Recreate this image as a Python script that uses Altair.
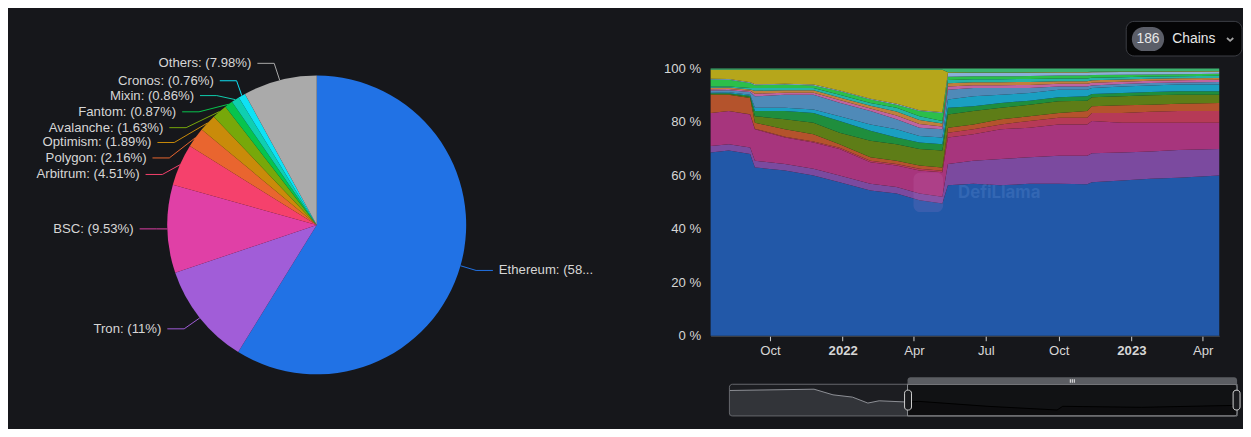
import altair as alt
import numpy as np
import pandas as pd

BG = "#16171b"
TXT = "#d6d6d6"
FONT = "Liberation Sans"

# ---------------- pie data ----------------
pie_names = ["Ethereum", "Tron", "BSC", "Arbitrum", "Polygon", "Optimism",
             "Avalanche", "Fantom", "Mixin", "Cronos", "Others"]
pie_shares = [58.81, 11, 9.53, 4.51, 2.16, 1.89, 1.63, 0.87, 0.86, 0.76, 7.98]
pie_colors = ["#2172e5", "#a15dd8", "#e040a6", "#f5416c", "#e9652f", "#c98b0a",
              "#77a80a", "#07c44d", "#0fcfb0", "#0fe2f5", "#aaaaaa"]

# ---------------- stacked share data (cumulative tops, %) ----------------
area_dates = ["2021-07-18", "2021-08-10", "2021-09-06", "2021-09-12", "2021-10-20",
              "2021-11-25", "2021-12-28", "2022-02-05", "2022-03-10", "2022-04-08",
              "2022-05-07", "2022-05-14", "2022-06-15", "2022-07-20", "2022-08-25",
              "2022-10-01", "2022-11-06", "2022-11-12", "2022-12-20", "2023-01-25",
              "2023-03-01", "2023-04-22"]
series_names = ["Ethereum ", "Tron ", "BSC ", "Arbitrum ", "Polygon ", "Avalanche ", "Fantom ",
                "Cronos ", "Solana", "Optimism ", "Kava", "Mixin ", "Heco", "Osmosis",
                "Terra", "Others "]
series_colors = ["#2258a8", "#7b4a9f", "#a7357d", "#b63a57", "#b4532c", "#5e7d17",
                 "#1f8e3d", "#1a9fc2", "#4f8ab8", "#c0649f", "#c0803c", "#26b3a6",
                 "#2bbf4a", "#8ab0d8", "#b6a61b", "#3cb371"]
eth_top = [68.6, 69.3, 68.0, 63.0, 61.9, 60.0, 57.5, 54.4, 53.2, 50.7, 49.5, 56.3, 56.9, 56.3, 56.9, 56.9, 56.7, 57.5, 58.1, 58.8, 59.1, 60.0]
tron_top = [71.0, 71.7, 70.5, 65.5, 64.3, 62.5, 60.0, 56.9, 55.7, 53.2, 52.0, 64.3, 65.5, 66.2, 66.8, 67.4, 67.4, 68.3, 68.6, 69.0, 69.5, 69.9]
bsc_top = [83.4, 84.1, 82.8, 77.3, 74.2, 72.3, 69.9, 64.9, 63.7, 61.9, 61.2, 74.2, 75.4, 77.3, 77.9, 79.1, 79.1, 80.4, 79.7, 79.7, 79.7, 79.7]
arb_top = [83.4, 84.1, 82.9, 77.5, 74.5, 72.7, 70.4, 65.5, 64.3, 62.5, 61.8, 76.0, 77.3, 79.1, 80.4, 81.6, 81.6, 83.4, 83.4, 83.8, 84.1, 84.1]
poly_top = [90.2, 90.2, 89.0, 79.7, 77.3, 75.4, 71.7, 66.8, 65.5, 63.7, 63.0, 77.9, 79.1, 81.0, 82.2, 83.4, 84.1, 85.9, 86.3, 86.5, 86.8, 87.1]
avax_top = [90.5, 90.5, 89.4, 82.2, 81.0, 79.7, 76.0, 73.0, 71.7, 69.9, 69.3, 82.8, 84.1, 85.3, 86.5, 87.8, 88.0, 89.3, 89.6, 90.0, 90.2, 90.2]
ftm_top = [90.8, 90.8, 89.8, 84.1, 84.1, 83.4, 80.4, 76.7, 74.2, 72.3, 71.7, 85.3, 85.9, 87.1, 88.0, 89.3, 89.6, 90.5, 90.9, 91.2, 91.5, 91.5]
cro_top = [91.0, 91.1, 90.2, 85.3, 85.3, 84.7, 82.2, 79.1, 77.3, 74.8, 74.2, 88.4, 89.6, 90.2, 90.9, 92.1, 92.1, 92.7, 93.3, 93.7, 94.0, 94.0]
sol_top = [91.8, 91.9, 91.2, 89.6, 90.2, 90.2, 87.2, 84.1, 81.0, 77.9, 77.3, 92.1, 92.7, 92.7, 92.7, 93.3, 93.3, 93.7, 94.2, 94.6, 94.8, 95.0]
op_top = [92.3, 92.4, 91.7, 90.6, 91.0, 91.0, 88.2, 85.1, 82.4, 79.3, 78.3, 93.3, 93.8, 93.8, 93.9, 94.3, 94.3, 94.7, 95.1, 95.4, 95.6, 95.8]
kava_top = [92.8, 92.9, 92.2, 91.7, 91.9, 91.9, 89.2, 86.1, 83.9, 80.8, 79.4, 94.5, 94.9, 94.9, 95.0, 95.3, 95.3, 95.6, 95.9, 96.2, 96.4, 96.5]
mixin_top = [93.3, 93.3, 92.7, 92.7, 92.7, 92.7, 90.2, 87.1, 85.3, 82.2, 80.4, 95.7, 96.0, 96.0, 96.1, 96.3, 96.3, 96.6, 96.8, 97.0, 97.1, 97.3]
heco_top = [95.9, 95.8, 94.6, 93.8, 94.0, 93.7, 91.5, 88.4, 86.5, 84.1, 83.4, 96.9, 97.1, 97.1, 97.2, 97.4, 97.4, 97.6, 97.7, 97.8, 97.9, 98.1]
osmo_top = [96.2, 96.1, 94.9, 94.1, 94.3, 94.0, 91.8, 88.7, 86.8, 84.4, 83.7, 98.3, 98.3, 98.3, 98.4, 98.5, 98.5, 98.6, 98.7, 98.7, 98.8, 98.9]
terra_top = [99.6, 99.6, 99.6, 99.6, 99.6, 99.6, 99.6, 99.6, 99.6, 99.6, 99.6, 98.6, 98.5, 98.5, 98.6, 98.7, 98.7, 98.8, 98.9, 98.9, 99.0, 99.1]

# ---------------- navigator data ----------------
nav_dates = ["2020-08-05", "2021-01-17", "2021-02-23", "2021-04-02", "2021-05-02",
             "2021-05-24", "2021-07-18", "2021-08-09", "2021-12-22", "2022-05-06",
             "2022-05-17", "2022-10-18", "2023-04-22"]
nav_vals = [80.3, 84.4, 66.6, 59.4, 40.6, 47.8, 43.8, 46.0, 30.3, 18.8, 30.3, 27.2, 33.4]
nav_split = "2021-07-18"

# ---------------- layout ----------------
W_PIE, H_TOTAL = 710, 421
PIE_CX, PIE_CY, PIE_R = 312, 217, 151
label_elbow_x = [473, 178, 150, 156, 163, 168, 180, 193, 211, 231, 269]
label_y = [263, 322, 221, 166, 149.3, 133.7, 118.7, 102.7, 86.3, 71.3, 53.7]
LABEL_SIZE = 13.3


def dt(s):
    y, m, d = map(int, s.split("-"))
    return alt.DateTime(year=y, month=m, date=d)


one = pd.DataFrame({"k": [0]})

# ---------------- pie panel ----------------
pie_df = pd.DataFrame({"chain": pie_names, "share": pie_shares, "idx": range(len(pie_names))})
labels = [f"{n}: ({s:g}%)" for n, s in zip(pie_names, pie_shares)]
total = float(sum(pie_shares))
cum = np.cumsum([0.0] + pie_shares[:-1])
mid = 2 * np.pi * (cum + np.array(pie_shares) / 2) / total
p0x = PIE_CX + PIE_R * np.sin(mid)
p0y = PIE_CY - PIE_R * np.cos(mid)

line_rows, lab_rows = [], []
for i, n in enumerate(pie_names):
    side = 1 if p0x[i] > PIE_CX else -1
    ex, ey = label_elbow_x[i], label_y[i]
    p2x = ex + side * 17
    line_rows += [dict(chain=n, pt=0, px=p0x[i], py=p0y[i]),
                  dict(chain=n, pt=1, px=ex, py=ey),
                  dict(chain=n, pt=2, px=p2x, py=ey)]
    lab_rows.append(dict(chain=n, label=labels[i], tx=p2x + side * 6, ty=ey,
                         side="right" if side > 0 else "left"))
line_df = pd.DataFrame(line_rows)
lab_df = pd.DataFrame(lab_rows)

cscale = alt.Scale(domain=pie_names, range=pie_colors)
xpix = alt.Scale(domain=[0, W_PIE], nice=False, zero=False)
ypix = alt.Scale(domain=[0, H_TOTAL], reverse=True, nice=False, zero=False)

arc = alt.Chart(pie_df).mark_arc(outerRadius=PIE_R).encode(
    theta=alt.Theta("share:Q", stack=True),
    color=alt.Color("chain:N", scale=cscale, legend=None),
    order=alt.Order("idx:Q"),
    x=alt.value(PIE_CX), y=alt.value(PIE_CY),
)
leaders = alt.Chart(line_df).mark_line(strokeWidth=1).encode(
    x=alt.X("px:Q", scale=xpix, axis=None),
    y=alt.Y("py:Q", scale=ypix, axis=None),
    color=alt.Color("chain:N", scale=cscale, legend=None),
    detail="chain:N",
    order=alt.Order("pt:Q"),
)
ltext = alt.Chart(lab_df).transform_filter("datum.side == 'left'").mark_text(
    align="right", baseline="middle", fontSize=LABEL_SIZE, font=FONT, color=TXT
).encode(x=alt.X("tx:Q", scale=xpix, axis=None), y=alt.Y("ty:Q", scale=ypix, axis=None), text="label:N")
rtext = alt.Chart(lab_df).transform_filter("datum.side == 'right'").mark_text(
    align="left", baseline="middle", fontSize=LABEL_SIZE, font=FONT, color=TXT, limit=99, ellipsis="..."
).encode(x=alt.X("tx:Q", scale=xpix, axis=None), y=alt.Y("ty:Q", scale=ypix, axis=None), text="label:N")

pie = alt.layer(arc, leaders, ltext, rtext).properties(width=W_PIE, height=H_TOTAL)

# ---------------- stacked area ----------------
tops = np.array([eth_top, tron_top, bsc_top, arb_top, poly_top, avax_top, ftm_top, cro_top,
                 sol_top, op_top, kava_top, mixin_top, heco_top, osmo_top, terra_top])
n_d = len(area_dates)
bounds_arr = np.vstack([np.zeros(n_d), tops, np.full(n_d, 100.0)])
shares = np.clip(np.diff(bounds_arr, axis=0), 0, None)
rows = []
for si, name in enumerate(series_names):
    for di, d in enumerate(area_dates):
        rows.append(dict(date=d + "T00:00:00", series=name, ord=si, share=shares[si, di]))
area_df = pd.DataFrame(rows)

tick_vals = [dt("2021-10-01"), dt("2022-01-01"), dt("2022-04-01"), dt("2022-07-01"),
             dt("2022-10-01"), dt("2023-01-01"), dt("2023-04-01")]

areas = alt.Chart(area_df).mark_area(interpolate="linear").encode(
    x=alt.X("date:T", title=None,
            scale=alt.Scale(domain=[dt(area_dates[0]), dt(area_dates[-1])], nice=False),
            axis=alt.Axis(values=tick_vals,
                          labelExpr="month(datum.value) == 0 ? timeFormat(datum.value, '%Y') : timeFormat(datum.value, '%b')",
                          labelFontWeight={"condition": {"test": "month(datum.value) == 0", "value": "bold"}, "value": "normal"},
                          tickColor="#cfcfcf", tickSize=5, domainColor="#4a4d55", labelColor=TXT,
                          labelFontSize=LABEL_SIZE, grid=False, labelPadding=3, labelFlush=False)),
    y=alt.Y("share:Q", stack="normalize", title=None,
            scale=alt.Scale(domain=[0, 1], nice=False),
            axis=alt.Axis(values=[0, 0.2, 0.4, 0.6, 0.8, 1],
                          labelExpr="format(datum.value * 100, 'd') + ' %'",
                          ticks=False, domain=False, grid=False, labelPadding=10,
                          labelColor=TXT, labelFontSize=LABEL_SIZE, labelFlush=False)),
    color=alt.Color("series:N", scale=alt.Scale(domain=series_names, range=series_colors), legend=None),
    order=alt.Order("ord:Q", sort="ascending"),
)
logo = alt.Chart(one).mark_rect(fill="#d88ad8", opacity=0.13, cornerRadius=7).encode(
    x=alt.value(205), x2=alt.value(235), y=alt.value(105), y2=alt.value(145))
wm = alt.Chart(one).mark_text(text="DefiLlama", font="Inter", fontSize=17, fontWeight="bold",
                              color="#5a8ad0", opacity=0.3, align="left", baseline="middle").encode(
    x=alt.value(250), y=alt.value(126))
area = alt.layer(areas, logo, wm).properties(width=514, height=270)

# ---------------- top spacer with chains button ----------------
btn = alt.Chart(one).mark_rect(fill="#050506", stroke="#3d3f45", strokeWidth=1, cornerRadius=8).encode(
    x=alt.value(420), x2=alt.value(537), y=alt.value(11.3), y2=alt.value(46.3))
pill = alt.Chart(one).mark_rect(fill="#5b5e68", cornerRadius=12).encode(
    x=alt.value(425.7), x2=alt.value(458.3), y=alt.value(17), y2=alt.value(41.3))
t186 = alt.Chart(one).mark_text(text="186", fontSize=14, font=FONT, color="#e8e8e8",
                                align="center", baseline="middle").encode(x=alt.value(442), y=alt.value(29.5))
tch = alt.Chart(one).mark_text(text="Chains", fontSize=14, font=FONT, color="#e8e8e8",
                               align="left", baseline="middle").encode(x=alt.value(466.5), y=alt.value(29.5))
chev = alt.Chart(one).mark_point(shape="M-1,-0.45L0,0.45L1,-0.45", filled=False, size=40,
                                 strokeWidth=1.8, color="#e8e8e8").encode(x=alt.value(525), y=alt.value(29.5))
spacer = alt.layer(btn, pill, t186, tch, chev).properties(width=533, height=59)

# ---------------- navigator ----------------
nav_df = pd.DataFrame({"nd": [d + "T00:00:00" for d in nav_dates], "nv": nav_vals})
before = nav_df[[d <= nav_split for d in nav_dates]]
after = nav_df[[d >= nav_split for d in nav_dates]]
nx = alt.X("nd:T", axis=None, scale=alt.Scale(domain=[dt(nav_dates[0]), dt(nav_dates[-1])], range=[19, 532], nice=False))
ny = alt.Y("nv:Q", axis=None, scale=alt.Scale(domain=[0, 100], range=[81, 49], nice=False))

nav_bg = alt.Chart(one).mark_rect(fill="#1c1d21", cornerRadius=3).encode(
    x=alt.value(19), x2=alt.value(532), y=alt.value(49), y2=alt.value(81))
sel_bg = alt.Chart(one).mark_rect(fill="#111214").encode(
    x=alt.value(199), x2=alt.value(532), y=alt.value(49), y2=alt.value(81))
nav_before = alt.Chart(before).mark_area(color="#3c3e44", line={"color": "#8e9096", "strokeWidth": 1}).encode(x=nx, y=ny)
nav_after = alt.Chart(after).mark_area(color="#0b0b0d", line={"color": "#000000", "strokeWidth": 1}).encode(x=nx, y=ny)
nav_box = alt.Chart(one).mark_rect(fill=None, stroke="#66686d", strokeWidth=1, cornerRadius=3).encode(
    x=alt.value(19), x2=alt.value(532), y=alt.value(49), y2=alt.value(81))
sel_box = alt.Chart(one).mark_rect(fill=None, stroke="#8b8d91", strokeWidth=1).encode(
    x=alt.value(199), x2=alt.value(532), y=alt.value(49), y2=alt.value(81))
bar = alt.Chart(one).mark_rect(fill="#5b5d62", cornerRadiusTopLeft=3, cornerRadiusTopRight=3).encode(
    x=alt.value(199), x2=alt.value(532), y=alt.value(42), y2=alt.value(49))
grips = [alt.Chart(one).mark_rect(fill="#f0f0f0").encode(
    x=alt.value(gx), x2=alt.value(gx + 1), y=alt.value(44), y2=alt.value(47.5)) for gx in (363, 365, 367)]
h1 = alt.Chart(one).mark_rect(fill="#1a1b1e", stroke="#d0d0d0", strokeWidth=1, cornerRadius=3).encode(
    x=alt.value(196), x2=alt.value(203), y=alt.value(55), y2=alt.value(75))
h2 = alt.Chart(one).mark_rect(fill="#1a1b1e", stroke="#d0d0d0", strokeWidth=1, cornerRadius=3).encode(
    x=alt.value(528), x2=alt.value(535), y=alt.value(55), y2=alt.value(75))
nav = alt.layer(nav_bg, sel_bg, nav_before, nav_after, nav_box, sel_box, bar, *grips, h1, h2).properties(
    width=529, height=84)

right = alt.vconcat(spacer, area, nav, spacing=0, bounds="flush")

chart = alt.hconcat(pie, right, spacing=0, bounds="flush").resolve_scale(
    color="independent"
).properties(
    background=BG, padding=0
).configure_view(stroke=None).configure_axis(labelFont=FONT)

chart.save("out.html", embed_options={"renderer": "svg", "actions": False})
